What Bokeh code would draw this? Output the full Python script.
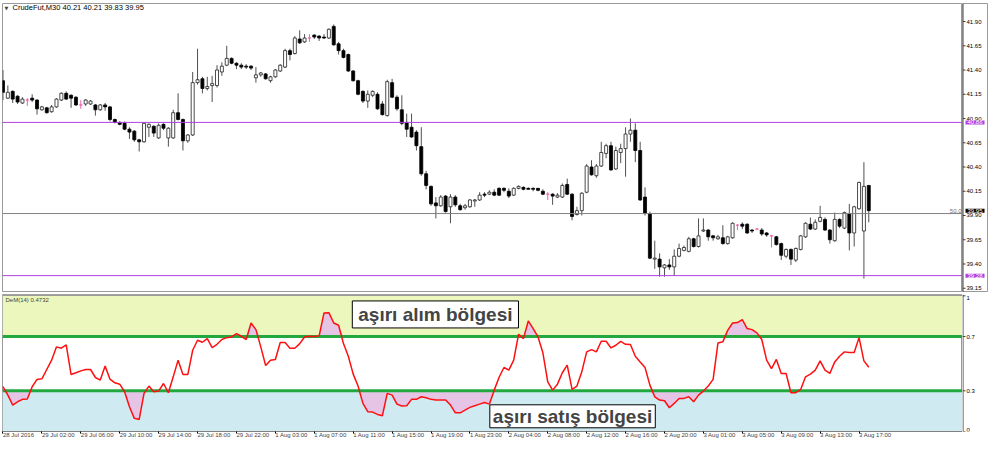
import numpy as np
from bokeh.plotting import figure
from bokeh.layouts import column, row
from bokeh.models import (Range1d, Span, BoxAnnotation, Label, FixedTicker,
                          ColumnDataSource)
from bokeh.core.properties import value
from bokeh.embed import file_html
from bokeh.resources import INLINE

# ---------------- data ----------------
symbol = "CrudeFut,M30"
opens = [41.29, 41.11, 41.18, 41.13, 41.06, 41.09, 41.11, 41.09, 40.99, 41.01,
         40.97, 41.02, 41.09, 41.16, 41.14, 41.12, 41.04, 41.05, 41.05, 41.04,
         40.99, 41.04, 41.02, 40.89, 40.86, 40.85, 40.79, 40.77, 40.68, 40.66,
         40.81, 40.82, 40.70, 40.84, 40.70, 40.70, 40.96, 40.89, 40.67, 40.73,
         41.27, 41.31, 41.21, 41.24, 41.24, 41.38, 41.45, 41.52, 41.47, 41.45,
         41.44, 41.44, 41.32, 41.35, 41.36, 41.29, 41.33, 41.39, 41.43, 41.60,
         41.57, 41.72, 41.69, 41.73, 41.76, 41.75, 41.74, 41.73, 41.85, 41.67,
         41.60, 41.56, 41.39, 41.29, 41.18, 41.08, 41.14, 41.15, 41.05, 40.93,
         41.27, 41.12, 40.99, 40.86, 40.81, 40.76, 40.61, 40.33, 40.20, 40.03,
         40.00, 40.10, 39.99, 40.09, 40.00, 39.98, 39.99, 40.05, 40.06, 40.12,
         40.12, 40.14, 40.18, 40.18, 40.15, 40.11, 40.18, 40.19, 40.18, 40.18,
         40.18, 40.15, 40.12, 40.12, 40.09, 40.09, 40.22, 40.12, 39.91, 39.95,
         40.14, 40.40, 40.31, 40.41, 40.54, 40.62, 40.38, 40.55, 40.59, 40.74,
         40.78, 40.57, 40.09, 39.92, 39.45, 39.45, 39.36, 39.39, 39.37, 39.48,
         39.54, 39.53, 39.66, 39.58, 39.74, 39.75, 39.69, 39.66, 39.67, 39.61,
         39.67, 39.80, 39.81, 39.81, 39.75, 39.76, 39.75, 39.72, 39.69, 39.68,
         39.61, 39.48, 39.55, 39.44, 39.55, 39.68, 39.81, 39.76, 39.84, 39.86,
         39.75, 39.64, 39.86, 39.77, 39.92, 39.72, 39.97, 39.74, 40.21]
highs = [41.40, 41.24, 41.19, 41.14, 41.12, 41.11, 41.15, 41.10, 41.03, 41.02,
         41.04, 41.11, 41.17, 41.18, 41.15, 41.13, 41.09, 41.10, 41.09, 41.05,
         41.05, 41.06, 41.03, 40.90, 40.87, 40.87, 40.81, 40.78, 40.69, 40.86,
         40.85, 40.83, 40.85, 40.85, 40.81, 40.99, 41.16, 40.90, 40.74, 41.38,
         41.62, 41.33, 41.33, 41.34, 41.45, 41.48, 41.65, 41.53, 41.48, 41.47,
         41.46, 41.45, 41.43, 41.38, 41.37, 41.34, 41.41, 41.46, 41.62, 41.62,
         41.75, 41.81, 41.77, 41.77, 41.77, 41.76, 41.77, 41.83, 41.87, 41.69,
         41.62, 41.57, 41.40, 41.30, 41.19, 41.19, 41.19, 41.17, 41.08, 41.30,
         41.31, 41.14, 41.14, 40.95, 40.95, 40.78, 40.81, 40.36, 40.21, 40.09,
         40.11, 40.11, 40.12, 40.11, 40.02, 40.02, 40.07, 40.07, 40.14, 40.14,
         40.16, 40.17, 40.19, 40.19, 40.18, 40.19, 40.21, 40.20, 40.19, 40.19,
         40.18, 40.17, 40.14, 40.13, 40.13, 40.23, 40.28, 40.13, 39.99, 40.14,
         40.43, 40.47, 40.43, 40.66, 40.64, 40.66, 40.61, 40.64, 40.81, 40.90,
         40.85, 40.66, 40.19, 39.94, 39.64, 39.51, 39.40, 39.45, 39.55, 39.61,
         39.59, 39.68, 39.67, 39.87, 39.87, 39.76, 39.70, 39.70, 39.80, 39.69,
         39.83, 39.81, 39.83, 39.82, 39.76, 39.77, 39.77, 39.73, 39.70, 39.69,
         39.62, 39.56, 39.56, 39.57, 39.70, 39.83, 39.88, 39.86, 40.00, 39.88,
         39.76, 39.93, 39.87, 39.94, 40.02, 40.00, 40.25, 40.45, 40.21]
lows = [41.09, 41.10, 41.06, 41.05, 41.05, 41.03, 41.07, 40.94, 40.98, 40.95,
        40.96, 41.01, 41.08, 41.09, 41.01, 41.03, 41.00, 41.03, 41.04, 40.93,
        40.98, 40.98, 40.87, 40.85, 40.83, 40.78, 40.69, 40.66, 40.56, 40.65,
        40.71, 40.71, 40.69, 40.78, 40.61, 40.69, 40.88, 40.57, 40.65, 40.72,
        41.25, 41.16, 41.19, 41.07, 41.22, 41.34, 41.44, 41.46, 41.41, 41.41,
        41.41, 41.40, 41.27, 41.33, 41.30, 41.27, 41.32, 41.38, 41.42, 41.50,
        41.56, 41.67, 41.68, 41.69, 41.72, 41.70, 41.72, 41.72, 41.65, 41.56,
        41.52, 41.38, 41.28, 41.14, 41.06, 41.01, 41.12, 40.99, 40.93, 40.92,
        41.11, 40.98, 40.83, 40.71, 40.70, 40.57, 40.31, 40.17, 40.00, 39.87,
        39.99, 39.93, 39.82, 39.99, 39.95, 39.96, 39.98, 39.99, 40.05, 40.09,
        40.11, 40.10, 40.10, 40.14, 40.08, 40.10, 40.17, 40.16, 40.17, 40.15,
        40.15, 40.11, 40.06, 40.01, 40.08, 40.08, 40.11, 39.85, 39.90, 39.90,
        40.13, 40.31, 40.29, 40.40, 40.49, 40.36, 40.37, 40.44, 40.30, 40.66,
        40.45, 40.05, 39.90, 39.45, 39.35, 39.27, 39.27, 39.34, 39.28, 39.47,
        39.53, 39.52, 39.57, 39.57, 39.73, 39.64, 39.64, 39.65, 39.60, 39.60,
        39.66, 39.75, 39.76, 39.71, 39.72, 39.75, 39.69, 39.68, 39.57, 39.59,
        39.44, 39.46, 39.39, 39.42, 39.54, 39.67, 39.75, 39.75, 39.83, 39.74,
        39.61, 39.63, 39.77, 39.76, 39.54, 39.58, 39.96, 39.25, 39.83]
closes = [41.17, 41.17, 41.10, 41.07, 41.10, 41.09, 41.09, 41.00, 41.02, 40.96,
          41.02, 41.10, 41.16, 41.10, 41.11, 41.04, 41.04, 41.09, 41.08, 40.99,
          41.04, 41.02, 40.89, 40.86, 40.84, 40.79, 40.76, 40.68, 40.66, 40.85,
          40.84, 40.75, 40.83, 40.80, 40.80, 40.96, 40.89, 40.67, 40.73, 41.27,
          41.30, 41.21, 41.23, 41.26, 41.40, 41.44, 41.52, 41.47, 41.45, 41.43,
          41.43, 41.42, 41.35, 41.37, 41.31, 41.33, 41.40, 41.45, 41.60, 41.56,
          41.73, 41.68, 41.73, 41.73, 41.74, 41.73, 41.73, 41.82, 41.66, 41.60,
          41.53, 41.39, 41.29, 41.15, 41.08, 41.15, 41.18, 41.00, 40.94, 41.28,
          41.12, 41.00, 40.85, 40.79, 40.71, 40.62, 40.33, 40.21, 40.02, 40.00,
          40.09, 39.94, 40.09, 40.01, 39.96, 40.00, 40.06, 40.06, 40.11, 40.11,
          40.14, 40.11, 40.11, 40.16, 40.10, 40.18, 40.20, 40.17, 40.17, 40.17,
          40.16, 40.12, 40.12, 40.10, 40.11, 40.21, 40.12, 39.89, 39.95, 40.13,
          40.41, 40.32, 40.41, 40.55, 40.62, 40.37, 40.57, 40.59, 40.74, 40.78,
          40.57, 40.06, 39.92, 39.46, 39.46, 39.37, 39.39, 39.37, 39.48, 39.56,
          39.57, 39.66, 39.58, 39.69, 39.75, 39.68, 39.67, 39.68, 39.61, 39.68,
          39.82, 39.80, 39.79, 39.72, 39.74, 39.76, 39.71, 39.70, 39.69, 39.60,
          39.49, 39.55, 39.45, 39.56, 39.69, 39.82, 39.76, 39.83, 39.88, 39.75,
          39.65, 39.86, 39.79, 39.93, 39.72, 39.99, 40.24, 40.20, 39.95]
dem = [0.330, 0.268, 0.195, 0.219, 0.237, 0.239, 0.330, 0.384, 0.388, 0.457,
       0.526, 0.624, 0.614, 0.638, 0.420, 0.433, 0.447, 0.457, 0.457, 0.398,
       0.379, 0.482, 0.386, 0.359, 0.349, 0.293, 0.183, 0.097, 0.089, 0.281,
       0.335, 0.293, 0.298, 0.354, 0.286, 0.403, 0.526, 0.420, 0.420, 0.599,
       0.673, 0.658, 0.685, 0.619, 0.643, 0.678, 0.692, 0.697, 0.722, 0.702,
       0.678, 0.800, 0.751, 0.624, 0.487, 0.526, 0.531, 0.656, 0.656, 0.614,
       0.614, 0.648, 0.697, 0.702, 0.700, 0.705, 0.874, 0.876, 0.800, 0.783,
       0.648, 0.555, 0.423, 0.335, 0.207, 0.146, 0.143, 0.126, 0.116, 0.281,
       0.268, 0.202, 0.188, 0.190, 0.237, 0.237, 0.256, 0.249, 0.237, 0.232,
       0.232, 0.232, 0.195, 0.138, 0.138, 0.158, 0.178, 0.190, 0.202, 0.214,
       0.202, 0.305, 0.400, 0.472, 0.452, 0.526, 0.717, 0.685, 0.815, 0.759,
       0.697, 0.580, 0.366, 0.305, 0.349, 0.433, 0.489, 0.310, 0.335, 0.440,
       0.587, 0.604, 0.587, 0.665, 0.665, 0.616, 0.636, 0.665, 0.643, 0.641,
       0.555, 0.513, 0.472, 0.342, 0.256, 0.232, 0.227, 0.175, 0.207, 0.244,
       0.244, 0.256, 0.219, 0.268, 0.298, 0.335, 0.384, 0.653, 0.661, 0.746,
       0.800, 0.803, 0.825, 0.759, 0.751, 0.727, 0.678, 0.526, 0.464, 0.531,
       0.428, 0.428, 0.286, 0.286, 0.310, 0.403, 0.423, 0.452, 0.521, 0.452,
       0.428, 0.513, 0.555, 0.587, 0.582, 0.582, 0.692, 0.521, 0.4732]
time_labels = ["28 Jul 2016", "29 Jul 02:00", "29 Jul 06:00", "29 Jul 10:00",
               "29 Jul 14:00", "29 Jul 18:00", "29 Jul 22:00", "1 Aug 03:00",
               "1 Aug 07:00", "1 Aug 11:00", "1 Aug 15:00", "1 Aug 19:00",
               "1 Aug 23:00", "2 Aug 04:00", "2 Aug 08:00", "2 Aug 12:00",
               "2 Aug 16:00", "2 Aug 20:00", "3 Aug 01:00", "3 Aug 05:00",
               "3 Aug 09:00", "3 Aug 13:00", "3 Aug 17:00"]
price_ticks = [39.15, 39.40, 39.65, 39.90, 40.15, 40.40, 40.65, 40.90, 41.15,
               41.40, 41.65, 41.90]
dem_ticks = [0, 0.3, 0.7, 1]
dem_tick_labels = ["0", "0.3", "0.7", "1"]
resistance = 40.86
support = 39.28
fib50 = 39.92
bid = 39.95
overbought = 0.7
oversold = 0.3
zone_top_text = "aşırı alım bölgesi"
zone_bottom_text = "aşırı satış bölgesi"

# ---------------- layout constants ----------------
FONT = "Liberation Sans"
SMALL = "6px"
PURPLE = "#b040e0"
FRAME = "#9a9a9a"
n = len(closes)
x_end = 197.27
xr = Range1d(-0.1, x_end)
yr_top = Range1d(39.106, 42.086)
yr_bot = Range1d(0, 1.01)


def clean(p):
    for g in p.grid:
        g.visible = False


# ---------------- price panel ----------------
top = figure(width=962, height=292, x_range=xr, y_range=yr_top,
             output_backend="svg", toolbar_location=None, x_axis_location=None,
             y_axis_location=None, min_border_left=2, min_border_right=0,
             min_border_top=3, min_border_bottom=0)
clean(top)
top.outline_line_color = FRAME

idx = list(range(n))
def sub(cond):
    ii = [i for i in idx if cond(i)]
    return ColumnDataSource(dict(x=ii, o=[opens[i] for i in ii], h=[highs[i] for i in ii],
                                 l=[lows[i] for i in ii], c=[closes[i] for i in ii]))

bull = sub(lambda i: closes[i] > opens[i])
bear = sub(lambda i: closes[i] < opens[i])
doji = sub(lambda i: closes[i] == opens[i])

for s in (bull, bear):
    top.segment(x0="x", y0="l", x1="x", y1="h", source=s, line_color="#505050", line_width=1)
top.segment(x0="x", y0="l", x1="x", y1="h", source=doji, line_color="#f060a8", line_width=1)
top.vbar(x="x", width=0.62, bottom="o", top="c", source=bull, fill_color="white",
         line_color="#202020", line_width=0.8)
top.vbar(x="x", width=0.62, bottom="o", top="c", source=bear, fill_color="black",
         line_color="black", line_width=0.8)
top.vbar(x="x", width=0.62, bottom="o", top="c", source=doji, fill_color="#f060a8",
         line_color="#f060a8", line_width=0.8)

top.add_layout(Span(location=resistance, dimension="width", line_color=PURPLE, line_width=1))
top.add_layout(Span(location=support, dimension="width", line_color=PURPLE, line_width=1))
top.add_layout(Span(location=fib50, dimension="width", line_color="#808080", line_width=1))
top.add_layout(Label(x=x_end, y=fib50, x_offset=-1, y_offset=1, text="50.0", text_font=FONT,
                     text_font_size=SMALL, text_color="#707070", text_align="right",
                     text_baseline="bottom"))
top.add_layout(Label(x=0.3, y=42.044, text="▼", text_font="DejaVu Sans", text_font_size="5px",
                     text_baseline="middle", text_align="left"))
top.add_layout(Label(x=1.95, y=42.044,
                     text=f"{symbol}  {opens[-1]:.2f} {highs[-1]:.2f} {lows[-1]:.2f} {closes[-1]:.2f}",
                     text_font=FONT, text_font_size="7.5px", text_baseline="middle",
                     text_align="left", text_color="black"))

# right price scale (own narrow panel, x units = pixels)
top_r = figure(width=26, height=292, x_range=Range1d(0, 26), y_range=yr_top,
               output_backend="svg", toolbar_location=None, x_axis_location=None,
               y_axis_location=None, min_border_left=0, min_border_right=0,
               min_border_top=3, min_border_bottom=0)
clean(top_r)
top_r.outline_line_color = FRAME
top_r.add_layout(Span(location=0.5, dimension="height", line_color="#404040", line_width=1))
top_r.segment(x0=0, y0=price_ticks, x1=3, y1=price_ticks, line_color="#404040", line_width=1)
top_r.text(x=4, y=price_ticks, text=[f"{t:.2f}" for t in price_ticks], text_font=value(FONT),
           text_font_size=SMALL, text_baseline="middle", text_align="left", text_color="black")
for val, bg in ((resistance, PURPLE), (support, PURPLE), (bid, "black")):
    top_r.add_layout(Label(x=3, y=val, text=f"{val:.2f}", text_font=FONT,
                           text_font_size=SMALL, text_color="white", text_baseline="middle",
                           text_align="left", background_fill_color=bg, padding=(2, 0)))

# ---------------- DeMarker panel ----------------
bot = figure(width=962, height=153, x_range=xr, y_range=yr_bot,
             output_backend="svg", toolbar_location=None, y_axis_location=None,
             min_border_left=2, min_border_right=0, min_border_top=2, min_border_bottom=14)
clean(bot)
bot.outline_line_color = FRAME

bot.add_layout(BoxAnnotation(bottom=overbought, fill_color="#ebf7bd", fill_alpha=1,
                             line_color=None, level="underlay"))
bot.add_layout(BoxAnnotation(top=oversold, fill_color="#cfebf1", fill_alpha=1,
                             line_color=None, level="underlay"))

x = np.arange(n)
d = np.array(dem)
bot.varea(x=x, y1=np.full(n, overbought), y2=np.maximum(d, overbought), fill_color="#e6c4e6")
bot.varea(x=x, y1=np.full(n, oversold), y2=np.minimum(d, oversold), fill_color="#e6c4e6")
bot.add_layout(Span(location=overbought, dimension="width", line_color="#22a83e", line_width=3))
bot.add_layout(Span(location=oversold, dimension="width", line_color="#22a83e", line_width=3))
bot.add_layout(Span(location=1.01, dimension="width", line_color=FRAME, line_width=3))
r = bot.line(x, d, line_color="#ff1010", line_width=1.5)
r.level = "overlay"

bot.add_layout(Label(x=0.51, y=0.973, text=f"DeM(14) {dem[-1]:.4f}", text_font=FONT,
                     text_font_size=SMALL, text_baseline="middle", text_align="left"))
bot.add_layout(Label(x=88.9, y=0.863, text=zone_top_text, text_font=FONT,
                     text_font_style="bold", text_font_size="19px", text_align="center",
                     text_baseline="middle", background_fill_color="white",
                     border_line_color="black", border_line_width=1, padding=(6, 3)))
bot.add_layout(Label(x=117.1, y=0.112, text=zone_bottom_text, text_font=FONT,
                     text_font_style="bold", text_font_size="19px", text_align="center",
                     text_baseline="middle", background_fill_color="white",
                     border_line_color="black", border_line_width=1, padding=(3, 1)))

xa = bot.xaxis[0]
xticks = [8 * k for k in range(len(time_labels))]
xa.ticker = FixedTicker(ticks=xticks)
xa.major_label_overrides = {t: s for t, s in zip(xticks, time_labels)}
xa.major_label_orientation = -0.0001
xa.major_label_text_font = FONT
xa.major_label_text_font_size = SMALL
xa.major_tick_out = 2
xa.major_tick_in = 0
xa.minor_tick_out = 0
xa.minor_tick_in = 0
xa.major_label_standoff = 1
xa.axis_line_color = "#808080"

bot_r = figure(width=26, height=153, x_range=Range1d(0, 26), y_range=yr_bot,
               output_backend="svg", toolbar_location=None, x_axis_location=None,
               y_axis_location=None, min_border_left=0, min_border_right=0,
               min_border_top=2, min_border_bottom=14)
clean(bot_r)
bot_r.outline_line_color = None
bot_r.add_layout(Span(location=0.5, dimension="height", line_color="#404040", line_width=1))
bot_r.segment(x0=0, y0=dem_ticks, x1=3, y1=dem_ticks, line_color="#404040", line_width=1)
for t, s in zip(dem_ticks, dem_tick_labels):
    base = "top" if t == max(dem_ticks) else ("bottom" if t == min(dem_ticks) else "middle")
    bot_r.text(x=[4], y=[t], text=[s], text_font=value(FONT), text_font_size=SMALL,
               text_baseline=base, text_align="left", text_color="black")

layout = column(row(top, top_r, spacing=0), row(bot, bot_r, spacing=0), spacing=0)
open("out.html", "w").write(file_html(layout, INLINE))
